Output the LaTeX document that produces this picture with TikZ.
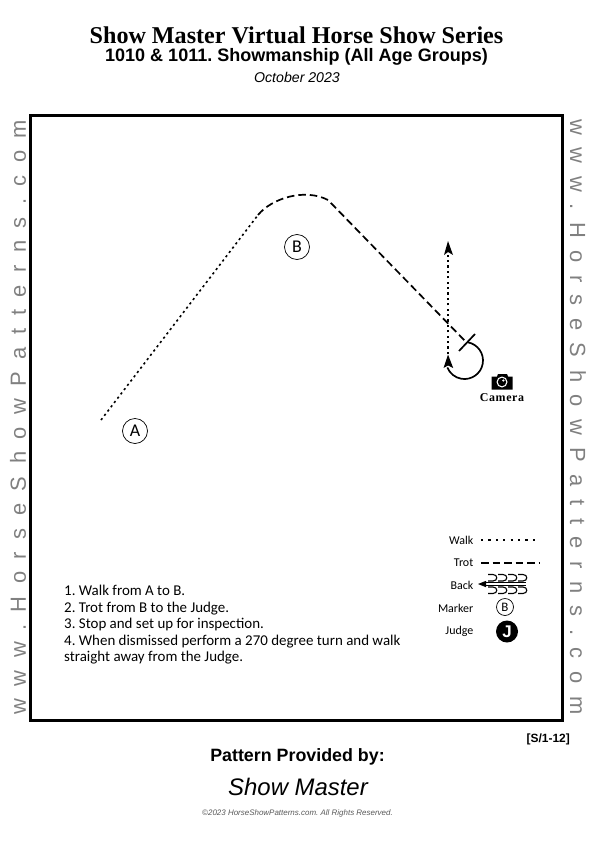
\documentclass[tikz,border=0pt]{standalone}
\usepackage{fontspec}
\setmainfont{Liberation Serif}
\newfontfamily\arial{Liberation Sans}
\newfontfamily\body{Carlito}
\newfontfamily\wmL[LetterSpace=57]{Liberation Sans}
\newfontfamily\camfont[LetterSpace=5]{Liberation Serif}
\usetikzlibrary{arrows.meta}
\definecolor{wm}{gray}{0.5}
\frenchspacing
\tikzset{
 mark node/.style={circle,draw,line width=0.7bp,minimum size=25bp,inner sep=0pt,font=\body\fontsize{18}{18}\selectfont},
 legend text/.style={anchor=east,inner sep=0pt,font=\body\fontsize{12}{12}\selectfont},
 step text/.style={anchor=north west,inner sep=0pt,align=left,font=\body\fontsize{15}{16.6}\selectfont},
 walk/.style={line width=1.6bp,dash pattern=on 2.2bp off 3.2bp},
 legend walk/.style={line width=1.6bp,dash pattern=on 2.2bp off 5.2bp},
 trot/.style={line width=1.7bp,dash pattern=on 7.5bp off 4bp},
 solidline/.style={line width=1.7bp},
 head/.style={fill=black,draw=none},
 wmark/.style={inner sep=0pt,text=wm,font=\wmL\fontsize{22}{22}\selectfont},
}
\begin{document}
\begin{tikzpicture}[x=1bp,y=-1bp]
\useasboundingbox (0,0) rectangle (596,842);
% titles
\node[inner sep=0pt,font=\bfseries\fontsize{24.2}{25}\selectfont] (t1) at (296.5,35) {Show Master Virtual Horse Show Series};
\node[inner sep=0pt,font=\arial\bfseries\fontsize{18.1}{18}\selectfont] (t2) at (296.5,56.5) {1010 \& 1011. Showmanship (All Age Groups)};
\node[inner sep=0pt,font=\arial\itshape\fontsize{14.2}{14}\selectfont] (t3) at (297,77) {October 2023};
% frame
\node[draw,line width=3bp,outer sep=0pt,minimum width=532bp,minimum height=605bp,inner sep=0pt,anchor=north west] (frame) at (30,115) {};
% watermarks
\node[wmark,rotate=90] (wl) at (18,417) {www.HorseShowPatterns.com};
\node[wmark,rotate=-90] (wr) at (578,417) {www.HorseShowPatterns.com};
% markers
\node[mark node] (A) at (135,431) {A};
\node[mark node] (B) at (297,247) {B};
% route
\coordinate (start) at (101,420);
\coordinate (bend) at (258,215);
\coordinate (x) at (467,343);
\draw[walk] (start) -- (bend);
\draw[trot] (bend) .. controls (272,198) and (305,188) .. (328,200) -- (x);
\draw[solidline] (475,334) -- (459,351);
\draw[line width=1.7bp] (467.7,342.3) arc[start angle=80,end angle=-158,radius=18.5bp];
\fill[head] (448,354.5) -- (453.2,368) -- (448,365.5) -- (443.5,368) -- cycle;
\draw[walk] (448,354) -- (448,254);
\fill[head] (448,241) -- (453,255) -- (448,252) -- (444,255) -- cycle;
% camera
\fill (491.5,376.5) -- (497,376.5) -- (498,374) -- (507,374) -- (508,376.5) -- (512.5,376.5) -- (512.5,389.5) -- (491.5,389.5) -- cycle;
\fill[white] (502,382) circle (5.5bp);
\fill (502,382) circle (4.2bp);
\fill[white] (503.3,380.5) circle (1.2bp);
\node[inner sep=0pt,font=\camfont\bfseries\fontsize{12}{12}\selectfont] (cam) at (502,397.5) {Camera};
% steps
\node[step text] (steps) at (64,585) {1. Walk from A to B.\\2. Trot from B to the Judge.\\3. Stop and set up for inspection.\\4. When dismissed perform a 270 degree turn and walk\\straight away from the Judge.};
% legend
\node[legend text] (lw) at (473.5,540) {Walk};
\node[legend text] (lt) at (473.5,563) {Trot};
\node[legend text] (lb) at (473.5,585) {Back};
\node[legend text] (lm) at (473.5,608) {Marker};
\node[legend text] (lj) at (473.5,631) {Judge};
\draw[legend walk] (481,540) -- (540,540);
\draw[trot] (481,563) -- (540,563);
\draw[line width=1bp] (484,582.7) -- (526,582.7);
\draw[line width=1bp] (484,585.5) -- (526,585.5);
\fill[head] (478,584) -- (486,580.8) -- (486,587.2) -- cycle;
\foreach \xx in {488,498,508,518}{
  \draw[line width=1.1bp] (\xx,574.5) -- (\xx+5,574.5) .. controls (\xx+10,574.5) and (\xx+10,581) .. (\xx+5,581) -- (\xx,581);
  \draw[line width=1.1bp] (\xx,587) -- (\xx+5,587) .. controls (\xx+10,587) and (\xx+10,593.5) .. (\xx+5,593.5) -- (\xx,593.5);
}
\node[mark node,minimum size=17bp,font=\body\fontsize{13}{13}\selectfont] (mb) at (505,607) {B};
\node[circle,fill=black,text=white,minimum size=22bp,inner sep=0pt,font=\arial\bfseries\fontsize{17}{17}\selectfont] (mj) at (507,631.5) {J};
% footer
\node[inner sep=0pt,anchor=east,font=\arial\bfseries\fontsize{12}{12}\selectfont] (code) at (570,739) {[S/1-12]};
\node[inner sep=0pt,font=\arial\bfseries\fontsize{17.9}{18}\selectfont] (pp) at (297.5,756.5) {Pattern Provided by:};
\node[inner sep=0pt,font=\arial\itshape\fontsize{24}{24}\selectfont] (sm) at (298,787) {Show Master};
\node[inner sep=0pt,text=black!65,font=\arial\itshape\fontsize{8}{8}\selectfont] (cp) at (297.5,813) {\copyright2023 HorseShowPatterns.com. All Rights Reserved.};
\end{tikzpicture}
\end{document}
